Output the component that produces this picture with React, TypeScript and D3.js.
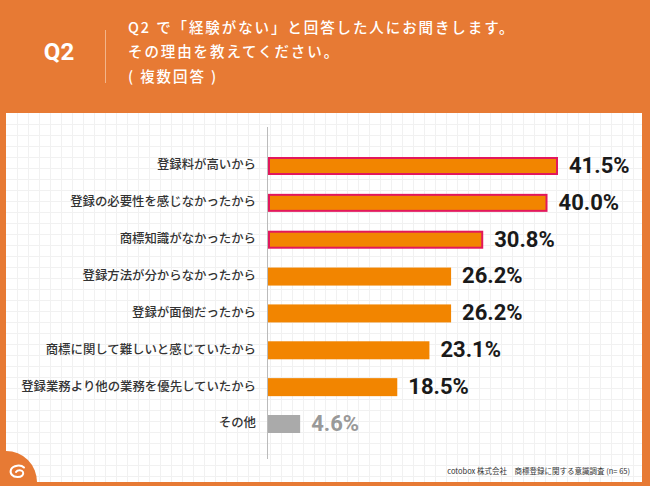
import React from "react";
import * as d3 from "d3";

const categories = [
  "登録料が高いから",
  "登録の必要性を感じなかったから",
  "商標知識がなかったから",
  "登録方法が分からなかったから",
  "登録が面倒だったから",
  "商標に関して難しいと感じていたから",
  "登録業務より他の業務を優先していたから",
  "その他",
];
const values = [41.5, 40.0, 30.8, 26.2, 26.2, 23.1, 18.5, 4.6];
const highlighted = [true, true, true, false, false, false, false, false];
const isOther = [false, false, false, false, false, false, false, true];
const titleLines = [
  "Q2 で「経験がない」と回答した人にお聞きします。",
  "その理由を教えてください。",
  "( 複数回答 )",
];
const footer = "cotobox 株式会社　商標登録に関する意識調査 (n= 65)";

const W = 650;
const H = 486;
const ORANGE = "#E77A34";
const BAR = "#F28500";
const BORDER = "#E2185C";
const GRAY = "#AAAAAA";
const FONT = "'Noto Sans CJK JP', 'Noto Sans', sans-serif";

export default function App() {
  const x = d3.scaleLinear().domain([0, 41.5]).range([268, 558]);
  const y = d3.scalePoint<string>().domain(categories).range([166, 424]);
  const bh = 18;

  const panel = { x0: 6, y0: 113, x1: 642, y1: 482 };
  const vLines = d3.range(panel.x0 + 11, panel.x1, 11);
  const hLines = d3.range(panel.y0 + 11, panel.y1, 11);

  return (
    <svg
      width={W}
      height={H}
      style={{ position: "absolute", left: 0, top: 0 }}
      fontFamily={FONT}
    >
      <rect x={0} y={0} width={W} height={H} fill={ORANGE} />
      <rect
        x={panel.x0}
        y={panel.y0}
        width={panel.x1 - panel.x0}
        height={panel.y1 - panel.y0}
        fill="#ffffff"
      />
      <g stroke="#F1F1F1" strokeWidth={1}>
        {vLines.map((v) => (
          <line key={"v" + v} x1={v + 0.5} x2={v + 0.5} y1={panel.y0} y2={panel.y1} />
        ))}
        {hLines.map((h) => (
          <line key={"h" + h} x1={panel.x0} x2={panel.x1} y1={h + 0.5} y2={h + 0.5} />
        ))}
      </g>

      {/* header */}
      <text
        x={59}
        y={54}
        fill="#fff"
        fontFamily="Roboto, 'Noto Sans', sans-serif"
        fontWeight={700}
        fontSize={24}
        textAnchor="middle"
        dominantBaseline="middle"
      >
        Q2
      </text>
      <line x1={105.5} x2={105.5} y1={30} y2={83} stroke="#F2B58A" strokeWidth={1} />
      {titleLines.map((t, i) => (
        <text
          key={t}
          x={128}
          y={29 + i * 24.5}
          fill="#fff"
          fontSize={14.5}
          fontWeight={500}
          dominantBaseline="middle"
          letterSpacing={1.9}
        >
          {t}
        </text>
      ))}

      {/* axis */}
      <line x1={267.5} x2={267.5} y1={127} y2={459} stroke="#BBBBBB" strokeWidth={1} />

      {categories.map((c, i) => {
        const cy = y(c)!;
        const w = x(values[i]) - x(0);
        const fill = isOther[i] ? GRAY : BAR;
        return (
          <g key={c}>
            {highlighted[i] ? (
              <rect
                x={x(0) + 1}
                y={cy - bh / 2 + 1}
                width={w - 2}
                height={bh - 2}
                fill={fill}
                stroke={BORDER}
                strokeWidth={2}
              />
            ) : (
              <rect x={x(0)} y={cy - bh / 2} width={w} height={bh} fill={fill} />
            )}
            <text
              x={256}
              y={cy}
              textAnchor="end"
              dominantBaseline="middle"
              fontSize={12.4}
              fontWeight={500}
              fill="#333"
            >
              {c}
            </text>
            <text
              x={x(values[i]) + 11}
              y={cy + 1}
              dominantBaseline="middle"
              fontFamily="Roboto, 'Noto Sans', sans-serif"
              fontWeight={700}
              fontSize={22}
              fill={isOther[i] ? "#999999" : "#1A1A1A"}
            >
              {values[i].toFixed(1)}%
            </text>
          </g>
        );
      })}

      {/* footer */}
      <text
        x={630}
        y={472}
        textAnchor="end"
        dominantBaseline="middle"
        fontSize={7.5}
        fill="#333"
      >
        {footer}
      </text>

      {/* logo */}
      <path d={`M${panel.x0},451 A31,31 0 0 1 ${panel.x0 + 31},${panel.y1} L${panel.x0},${panel.y1} Z`} fill={ORANGE} />
      <path
        d="M24,467.5 C21,464.5 13,465 11,469.5 C9.5,473.5 12.5,477 17.5,477 C22,477 24,474.5 23,472 C22,469.5 17.5,469.5 16,472"
        fill="none"
        stroke="#fff"
        strokeWidth={2}
        strokeLinecap="round"
      />
    </svg>
  );
}
